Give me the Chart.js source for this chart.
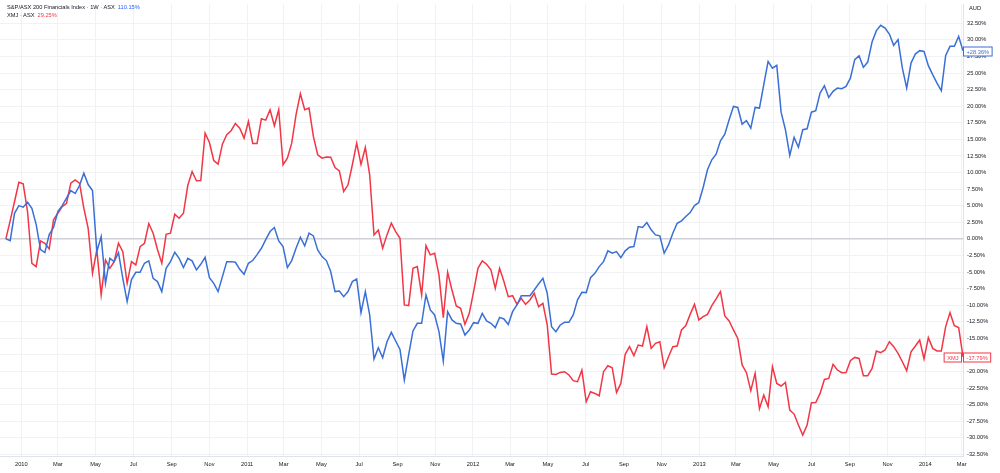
<!DOCTYPE html>
<html>
<head>
<meta charset="utf-8">
<script src="https://cdn.jsdelivr.net/npm/chart.js@4.4.1/dist/chart.umd.min.js"></script>
<style>
  html, body { margin: 0; padding: 0; background: #fff; }
  #wrap { position: relative; width: 1000px; height: 473px; font-family: "Liberation Sans", Arial, sans-serif; }
  #chart { position: absolute; left: 0; top: 0; }
  .legend { position: absolute; left: 7px; font-size: 5.7px; line-height: 7px; color: #131722; white-space: nowrap; }
  .legend span { margin-left: 3px; }
  #aud { position: absolute; left: 969px; top: 5px; font-size: 5.7px; color: #131722; }
</style>
</head>
<body>
<div id="wrap">
  <canvas id="chart" width="1000" height="473"></canvas>
  <div class="legend" id="leg0" style="top:4px"></div>
  <div class="legend" id="leg1" style="top:12px"></div>
  <div id="aud">AUD</div>
</div>
<script>
// weekly closes, % change from first week
const startDate = '2009-12-07';
const seriesNames = ['S&P/ASX 200 Financials Index · 1W · ASX', 'XMJ · ASX'];
const shortNames = ['', 'XMJ'];
const legendValues = ['110.15%', '29.25%'];
const seriesColors = ['#3a6fd6', '#f23645'];

const financialsPct = [
  0.00, -0.26, 3.86, 5.02, 4.77, 5.52, 4.62, 2.16, -1.61, -2.07,
  0.65, 1.71, 4.12, 5.02, 6.13, 7.29, 6.84, 8.04, 9.90, 8.19,
  7.29, -1.92, 0.35, -6.70, -2.93, -3.43, -2.07, -5.95, -9.46, -6.14,
  -5.04, -5.04, -3.68, -3.32, -5.95, -6.44, -7.95, -4.44, -3.43, -2.02,
  -2.93, -4.33, -2.93, -3.32, -4.68, -3.83, -2.78, -5.84, -6.70, -7.95,
  -5.69, -3.43, -3.43, -3.53, -4.59, -5.34, -3.68, -3.27, -2.37, -1.42,
  -0.11, 1.10, 1.71, -0.30, -1.16, -4.33, -3.27, -1.42, 0.24, -1.06,
  0.85, 0.45, -1.66, -2.67, -3.27, -4.93, -7.95, -7.85, -8.71, -7.95,
  -6.44, -6.04, -11.12, -7.95, -11.47, -18.11, -16.40, -17.91, -15.50, -14.09,
  -15.39, -16.66, -21.28, -17.50, -13.88, -12.73, -12.73, -8.45, -10.71, -11.47,
  -13.99, -18.41, -10.97, -12.22, -12.73, -12.83, -14.49, -13.73, -12.63, -12.73,
  -11.23, -12.37, -12.73, -13.38, -11.83, -12.07, -12.89, -10.97, -9.96, -8.56,
  -8.56, -8.56, -7.70, -6.79, -5.95, -8.21, -13.23, -13.99, -12.98, -12.58,
  -12.58, -11.47, -9.20, -8.06, -8.10, -5.84, -5.19, -4.18, -3.43, -1.81,
  -2.17, -1.92, -2.82, -1.81, -1.27, -1.16, 1.86, 1.71, 2.46, 1.36,
  0.60, 0.45, -2.17, -0.91, 0.85, 2.35, 2.72, 3.37, 3.97, 5.02,
  5.48, 7.74, 10.41, 11.92, 12.77, 14.79, 15.78, 17.96, 19.96, 19.81,
  17.29, 17.81, 16.69, 19.81, 19.71, 23.24, 26.75, 25.74, 26.15, 19.10,
  16.45, 12.57, 15.29, 13.82, 16.45, 16.60, 19.10, 19.31, 21.97, 23.09,
  21.32, 22.23, 22.73, 22.63, 22.98, 24.23, 27.01, 27.61, 25.85, 26.65,
  29.67, 31.39, 32.19, 31.78, 30.87, 29.17, 30.03, 25.74, 22.73, 26.50,
  27.86, 28.37, 28.26, 26.11, 24.75, 23.48, 22.33, 27.66, 29.02, 29.02,
  30.53, 28.36
];

const xmjPct = [
  0.00, 2.76, 5.63, 8.54, 8.30, 4.12, -3.68, -4.18, -0.30, -0.66,
  -1.51, 2.87, 3.86, 4.87, 5.37, 8.39, 8.90, 8.39, 4.62, 1.60,
  -5.19, -1.66, -8.45, -3.17, -4.44, -3.43, -0.66, -1.92, -6.70, -3.43,
  -3.92, -1.16, -0.66, 2.31, 0.85, -1.61, -3.68, 0.69, 0.85, 3.71,
  3.11, 3.86, 8.04, 10.16, 8.75, 8.80, 15.93, 14.53, 11.81, 11.26,
  14.27, 15.69, 16.30, 17.40, 16.69, 15.18, 17.70, 14.38, 14.38, 18.11,
  17.90, 19.47, 17.05, 19.47, 11.17, 12.16, 14.43, 18.71, 21.88, 19.47,
  19.71, 15.44, 12.68, 12.16, 12.34, 12.31, 10.76, 10.26, 7.14, 8.15,
  11.17, 14.43, 11.21, 13.78, 9.66, 0.60, 1.33, -1.42, 0.60, 2.38,
  1.10, 0.09, -9.96, -10.06, -4.44, -4.18, -8.45, -1.01, -2.41, -2.17,
  -5.43, -11.88, -5.04, -7.70, -10.11, -10.47, -12.89, -11.23, -7.95, -4.44,
  -3.32, -3.83, -4.68, -7.45, -4.44, -6.44, -8.71, -8.56, -9.87, -8.96,
  -9.87, -9.20, -8.21, -10.22, -9.72, -12.98, -20.37, -20.43, -20.13, -20.02,
  -20.52, -21.38, -21.53, -19.77, -24.55, -23.04, -23.30, -23.65, -20.02, -19.12,
  -19.42, -23.15, -21.79, -17.41, -16.25, -17.61, -16.00, -16.15, -13.23, -16.51,
  -15.75, -15.50, -19.42, -17.76, -16.25, -16.15, -13.73, -13.08, -11.38, -9.87,
  -12.22, -11.72, -11.38, -10.06, -9.05, -7.95, -11.62, -12.37, -13.73, -15.00,
  -19.01, -20.17, -22.89, -20.28, -25.61, -23.54, -25.31, -19.27, -21.79, -22.18,
  -21.64, -25.80, -26.41, -28.07, -29.58, -28.07, -24.70, -24.66, -23.30, -21.19,
  -21.03, -18.92, -19.77, -20.17, -20.13, -18.36, -17.87, -18.02, -20.63, -20.63,
  -19.53, -16.90, -17.16, -16.75, -15.50, -16.25, -17.26, -18.52, -19.87, -17.01,
  -16.15, -15.24, -18.11, -14.89, -16.51, -16.90, -16.90, -13.23, -11.12, -13.08,
  -13.38, -17.79
];

const xTickDates = [
  '2010-01-01', '2010-03-01', '2010-05-01', '2010-07-01', '2010-09-01', '2010-11-01',
  '2011-01-01', '2011-03-01', '2011-05-01', '2011-07-01', '2011-09-01', '2011-11-01',
  '2012-01-01', '2012-03-01', '2012-05-01', '2012-07-01', '2012-09-01', '2012-11-01',
  '2013-01-01', '2013-03-01', '2013-05-01', '2013-07-01', '2013-09-01', '2013-11-01',
  '2014-01-01', '2014-03-01'
];
const xTickLabels = [
  '2010', 'Mar', 'May', 'Jul', 'Sep', 'Nov',
  '2011', 'Mar', 'May', 'Jul', 'Sep', 'Nov',
  '2012', 'Mar', 'May', 'Jul', 'Sep', 'Nov',
  '2013', 'Mar', 'May', 'Jul', 'Sep', 'Nov',
  '2014', 'Mar'
];
const yTickValues = [];
for (let v = -32.5; v <= 32.5; v += 2.5) yTickValues.push(v);

const FONT = '"Liberation Sans", Arial, sans-serif';
const FONT_SIZE = 5.7;
const dayOf = s => (Date.parse(s) - Date.parse('2010-01-01')) / 86400000;
const day0 = dayOf(startDate);
const toPoints = arr => arr.map((v, i) => ({ x: day0 + 7 * i, y: v }));

document.getElementById('leg0').innerHTML = seriesNames[0].replace('&', '&amp;') +
  '<span style="color:#2962ff">' + legendValues[0] + '</span>';
document.getElementById('leg1').innerHTML = seriesNames[1] +
  '<span style="color:' + seriesColors[1] + '">' + legendValues[1] + '</span>';

// last value tags on the price scale
const lastValueTags = {
  id: 'lastValueTags',
  afterDraw(chart) {
    const ctx = chart.ctx;
    const yScale = chart.scales.y;
    const left = chart.chartArea.right;
    ctx.save();
    ctx.font = FONT_SIZE + 'px ' + FONT;
    ctx.textBaseline = 'middle';
    chart.data.datasets.forEach((ds, i) => {
      const last = ds.data[ds.data.length - 1].y;
      const y = Math.round(yScale.getPixelForValue(last)) + 0.5;
      const txt = (last >= 0 ? '+' : '') + last.toFixed(2) + '%';
      const w = ctx.measureText(txt).width + 6;
      ctx.fillStyle = '#fff';
      ctx.fillRect(left + 0.5, y - 4.5, w, 9);
      ctx.strokeStyle = ds.borderColor;
      ctx.lineWidth = 1;
      ctx.strokeRect(left + 0.5, y - 4.5, w, 9);
      ctx.fillStyle = ds.borderColor;
      ctx.textAlign = 'left';
      ctx.fillText(txt, left + 3.5, y + 0.5);
      if (shortNames[i]) {
        const nw = ctx.measureText(shortNames[i]).width + 6;
        ctx.fillStyle = '#fff';
        ctx.fillRect(left - nw - 1.5, y - 4.5, nw, 9);
        ctx.strokeRect(left - nw - 1.5, y - 4.5, nw, 9);
        ctx.fillStyle = ds.borderColor;
        ctx.fillText(shortNames[i], left - nw + 1.5, y + 0.5);
      }
    });
    ctx.restore();
  }
};

new Chart(document.getElementById('chart').getContext('2d'), {
  type: 'line',
  data: {
    datasets: [
      { label: seriesNames[0], data: toPoints(financialsPct), borderColor: seriesColors[0] },
      { label: seriesNames[1], data: toPoints(xmjPct), borderColor: seriesColors[1] }
    ]
  },
  options: {
    responsive: false,
    animation: false,
    layout: { padding: 0 },
    elements: {
      point: { radius: 0 },
      line: { borderWidth: 1.5, tension: 0, fill: false }
    },
    plugins: { legend: { display: false }, tooltip: { enabled: false } },
    scales: {
      x: {
        type: 'linear',
        min: -34.5,
        max: 1522,
        afterBuildTicks: scale => {
          scale.ticks = xTickDates.map(d => ({ value: dayOf(d) }));
        },
        afterFit: scale => { scale.height = 17; },
        ticks: {
          autoSkip: false,
          maxRotation: 0,
          padding: 5,
          color: '#131722',
          font: { family: FONT, size: FONT_SIZE },
          callback: (v, i) => xTickLabels[i]
        },
        grid: { color: '#f1f2f6', drawTicks: false },
        border: { display: true, color: '#e0e3eb' }
      },
      y: {
        position: 'right',
        min: -32.73,
        max: 35.40,
        afterBuildTicks: scale => {
          scale.ticks = yTickValues.map(v => ({ value: v }));
        },
        afterFit: scale => { scale.width = 37; },
        ticks: {
          padding: 4,
          color: '#131722',
          font: { family: FONT, size: FONT_SIZE, lineHeight: 0.01 },
          callback: v => v.toFixed(2) + '%'
        },
        grid: {
          drawTicks: false,
          color: c => (c.tick && c.tick.value === 0) ? '#cfd1d6' : '#f1f2f6',
          lineWidth: c => (c.tick && c.tick.value === 0) ? 1.5 : 1
        },
        border: { display: true, color: '#e0e3eb' }
      }
    }
  },
  plugins: [lastValueTags]
});
</script>
</body>
</html>
